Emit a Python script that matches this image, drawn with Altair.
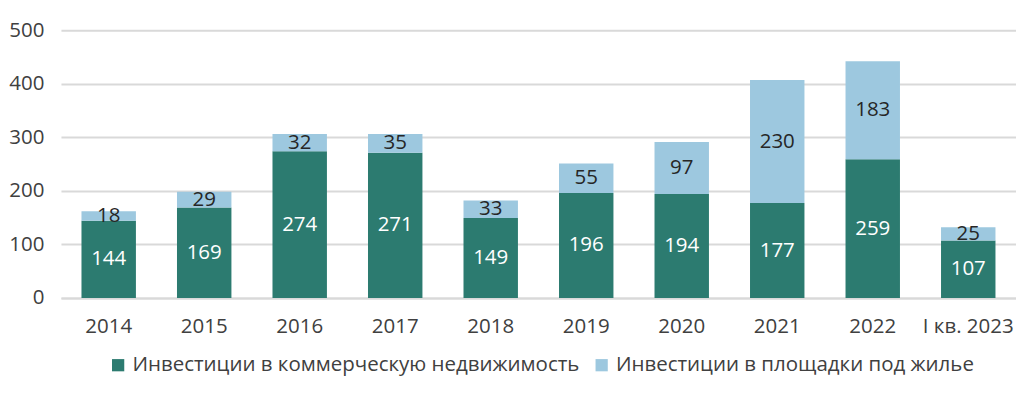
import altair as alt
import pandas as pd

years = ["2014", "2015", "2016", "2017", "2018", "2019", "2020", "2021", "2022", "I кв. 2023"]
commercial = [144, 169, 274, 271, 149, 196, 194, 177, 259, 107]
residential = [18, 29, 32, 35, 33, 55, 97, 230, 183, 25]
series = ["Инвестиции в коммерческую недвижимость", "Инвестиции в площадки под жилье"]
colors = ["#2c7b70", "#9dc8df"]
label_colors = ["#ffffff", "#262626"]

rows = []
for i, y in enumerate(years):
    rows.append({"year": y, "series": series[0], "value": commercial[i], "ord": 0, "lc": label_colors[0]})
    rows.append({"year": y, "series": series[1], "value": residential[i], "ord": 1, "lc": label_colors[1]})
df = pd.DataFrame(rows)

FONT = "Open Sans"
FS = 20.5

base = alt.Chart(df).transform_stack(
    stack="value", groupby=["year"], as_=["v0", "v1"], sort=[alt.SortField("ord")]
).transform_calculate(mid="(datum.v0 + datum.v1) / 2")

x = alt.X("year:N", sort=years, title=None,
          scale=alt.Scale(paddingInner=0.43, paddingOuter=0.215),
          axis=alt.Axis(labelAngle=0, labelFont=FONT, labelFontSize=FS, labelColor="#404040",
                        labelPadding=19, ticks=False, domain=True, domainColor="#d9d9d9",
                        domainWidth=2, grid=False))

bars = base.mark_bar().encode(
    x=x,
    y=alt.Y("v0:Q", title=None, scale=alt.Scale(domain=[0, 500]),
            axis=alt.Axis(values=[0, 100, 200, 300, 400, 500], labelFont=FONT, labelFontSize=FS,
                          labelColor="#404040", labelPadding=17, ticks=False, domain=False,
                          grid=True, gridColor="#d9d9d9", gridWidth=2)),
    y2="v1:Q",
    color=alt.Color("series:N", scale=alt.Scale(domain=series, range=colors),
                    legend=alt.Legend(title=None, orient="none", direction="horizontal",
                                      legendX=47, legendY=325, symbolType="square",
                                      symbolSize=150, symbolStrokeWidth=0,
                                      labelFont=FONT, labelFontSize=FS, labelColor="#404040",
                                      columnPadding=11, labelLimit=600)),
)

labels = base.mark_text(font=FONT, fontSize=FS, baseline="middle", align="center").encode(
    x=alt.X("year:N", sort=years),
    y=alt.Y("mid:Q"),
    text=alt.Text("value:Q"),
    color=alt.Color("lc:N", scale=None),
)

chart = alt.layer(bars, labels).properties(
    width=956, height=268,
    autosize=alt.AutoSizeParams(type="none"),
    padding={"left": 53, "top": 22, "right": 0, "bottom": 80},
).configure_view(stroke=None)

chart.save("out.html", embed_options={"renderer": "svg", "actions": False})
